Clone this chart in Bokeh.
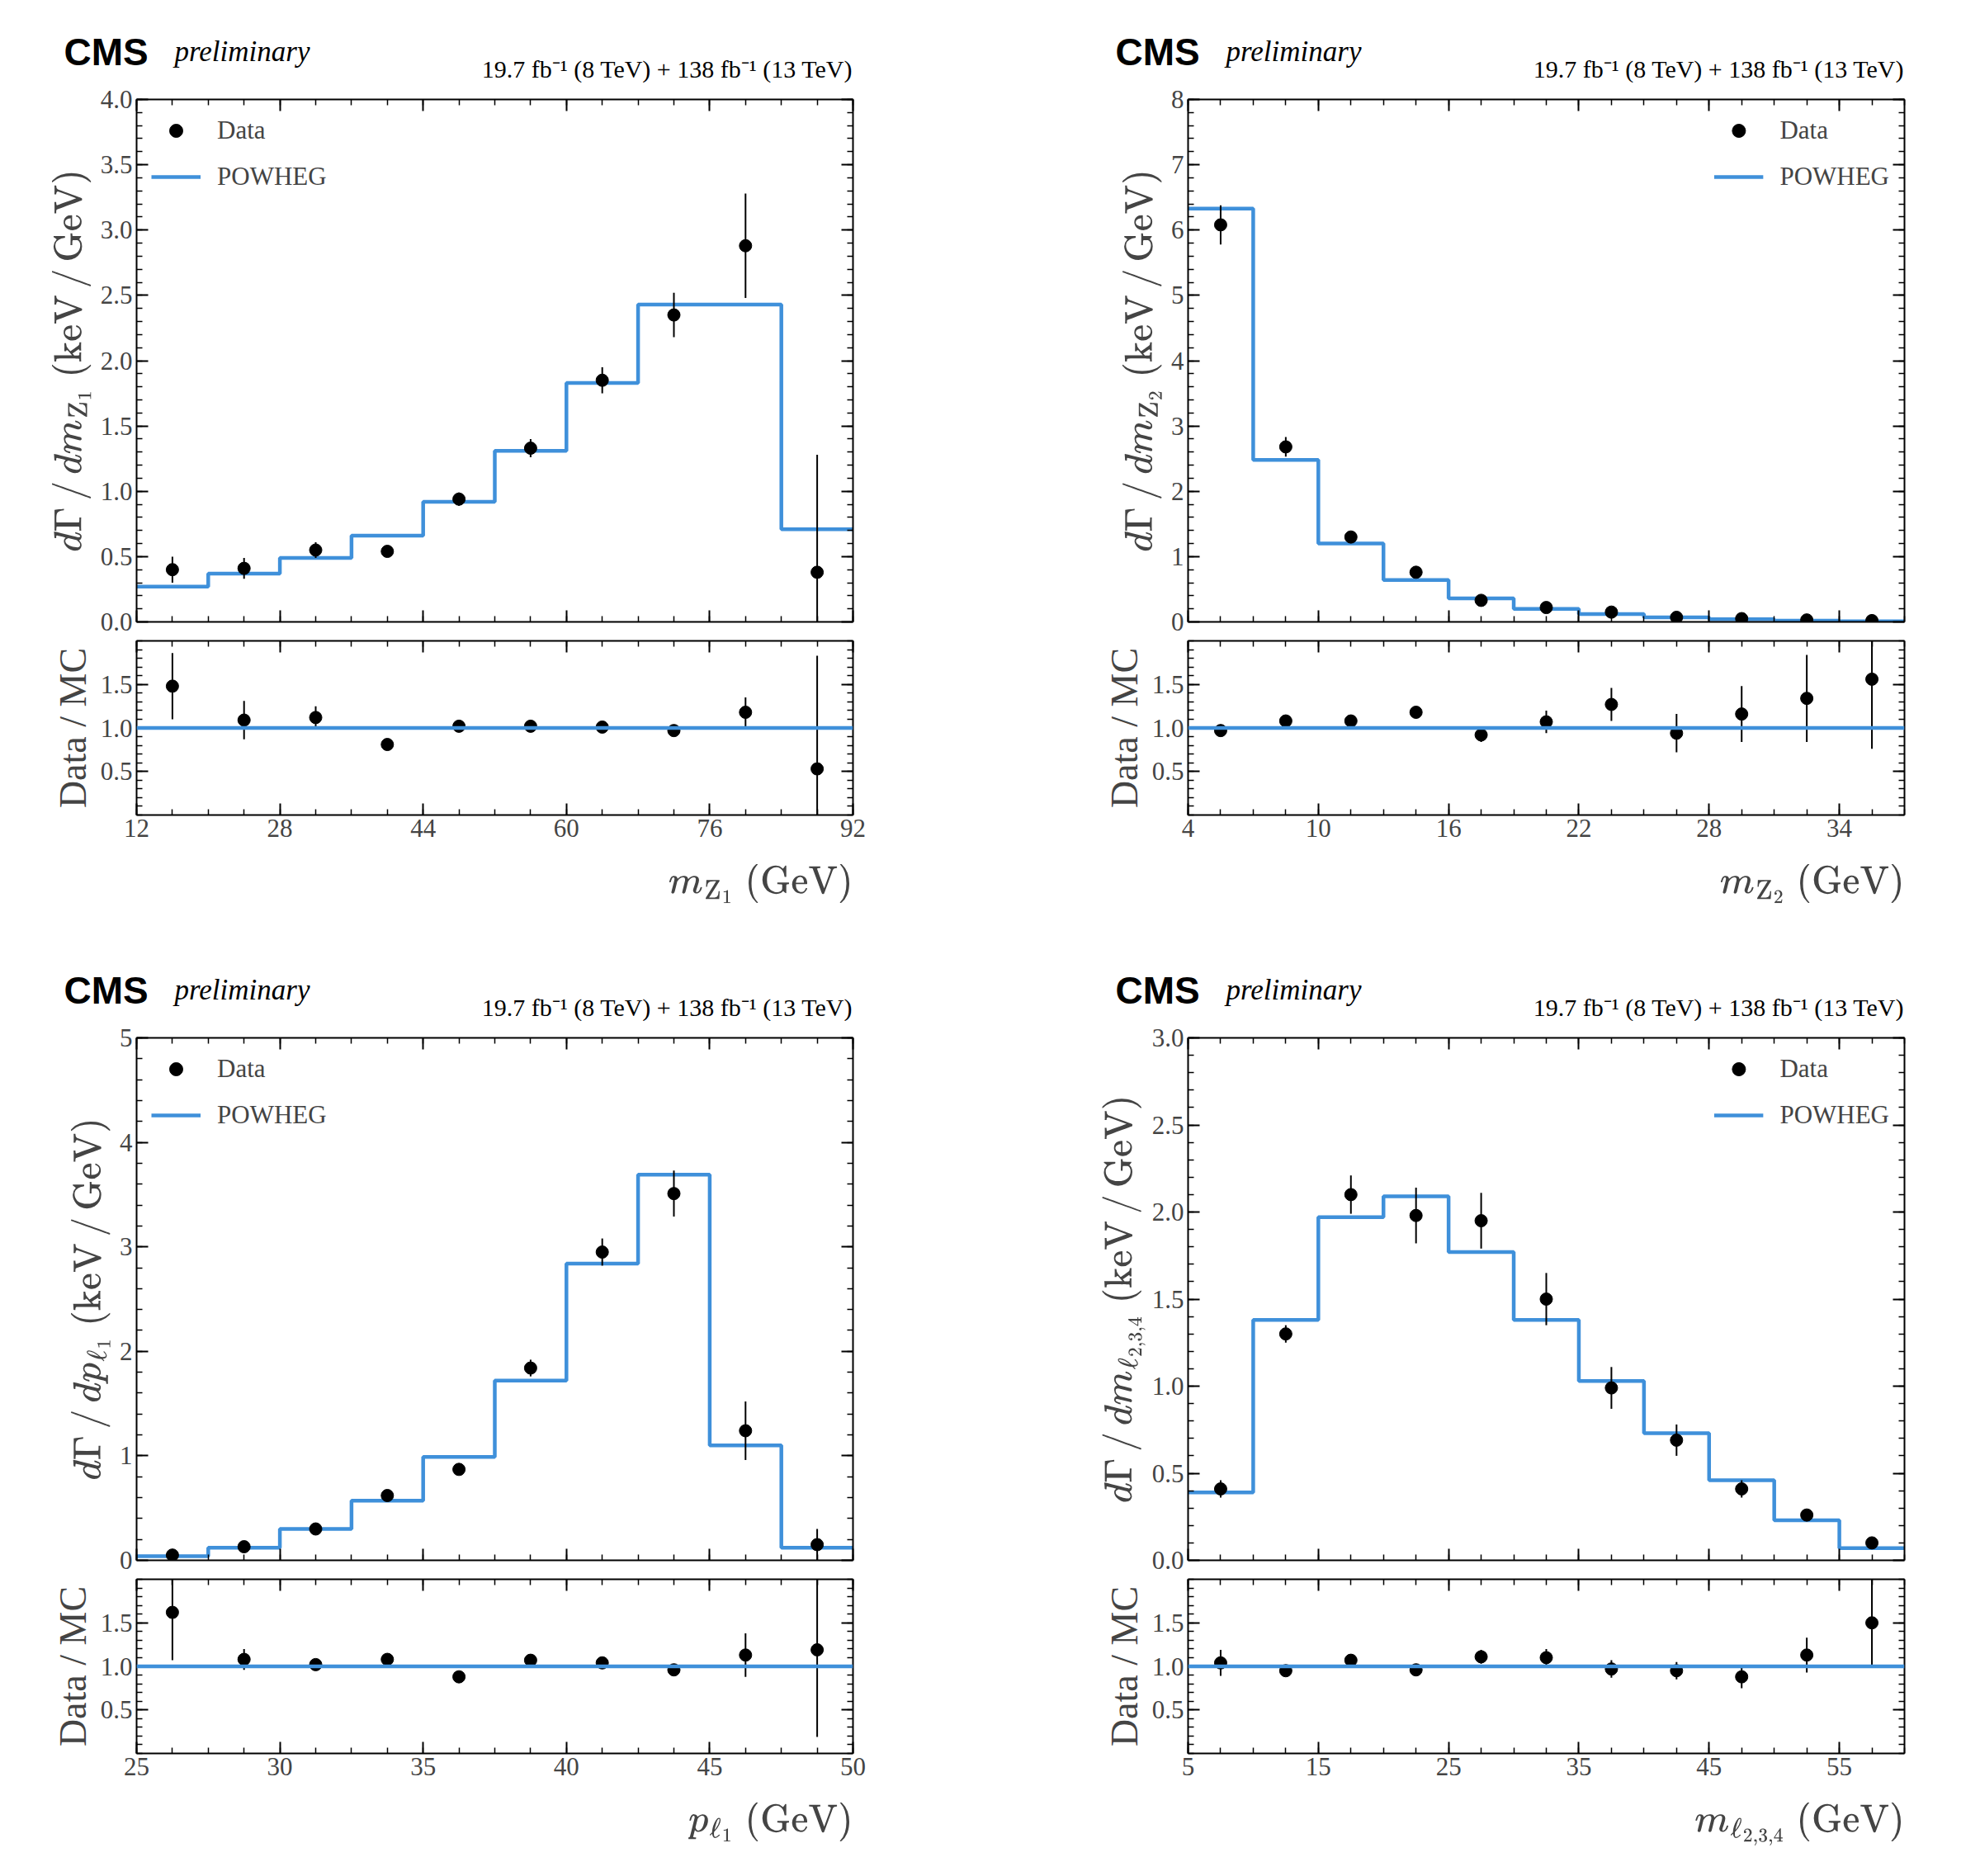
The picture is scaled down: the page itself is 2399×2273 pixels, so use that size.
import numpy as np
from bokeh.plotting import figure
from bokeh.layouts import column, row
from bokeh.models import (LinearAxis, Span, Legend, LegendItem, FixedTicker,
                          Range1d, CustomJSTickFormatter, NumeralTickFormatter)
from bokeh.core.properties import value
from bokeh.embed import file_html
from bokeh.resources import INLINE

# ---- data ----
edges1 = [12, 20, 28, 36, 44, 52, 60, 68, 76, 84, 92]
data1 = [0.40, 0.41, 0.55, 0.54, 0.94, 1.33, 1.85, 2.35, 2.88, 0.38]
derr1 = [0.10, 0.08, 0.06, 0.03, 0.05, 0.07, 0.10, 0.17, 0.40, 0.90]
mc1 = [0.27, 0.37, 0.49, 0.66, 0.92, 1.31, 1.83, 2.43, 2.43, 0.71]
ratio1 = [1.48, 1.09, 1.12, 0.81, 1.02, 1.02, 1.01, 0.97, 1.18, 0.53]
rerr1 = [0.38, 0.22, 0.13, 0.04, 0.04, 0.05, 0.05, 0.06, 0.17, 1.30]

edges2 = [4, 7, 10, 13, 16, 19, 22, 25, 28, 31, 34, 37]
data2 = [6.08, 2.68, 1.30, 0.76, 0.33, 0.22, 0.15, 0.07, 0.05, 0.03, 0.02]
derr2 = [0.30, 0.15, 0.07, 0.05, 0.03, 0.03, 0.03, 0.02, 0.02, 0.01, 0.01]
mc2 = [6.33, 2.48, 1.20, 0.64, 0.36, 0.20, 0.12, 0.07, 0.04, 0.02, 0.01]
ratio2 = [0.97, 1.08, 1.08, 1.18, 0.92, 1.07, 1.27, 0.94, 1.16, 1.34, 1.56]
rerr2 = [0.05, 0.05, 0.05, 0.07, 0.08, 0.13, 0.19, 0.22, 0.32, 0.50, 0.80]

edges3 = [25, 27.5, 30, 32.5, 35, 37.5, 40, 42.5, 45, 47.5, 50]
data3 = [0.05, 0.13, 0.30, 0.62, 0.87, 1.84, 2.95, 3.51, 1.24, 0.15]
derr3 = [0.02, 0.02, 0.03, 0.04, 0.05, 0.08, 0.13, 0.22, 0.28, 0.15]
mc3 = [0.04, 0.12, 0.30, 0.57, 0.99, 1.72, 2.84, 3.69, 1.10, 0.12]
ratio3 = [1.62, 1.08, 1.02, 1.08, 0.88, 1.07, 1.04, 0.96, 1.13, 1.19]
rerr3 = [0.55, 0.12, 0.05, 0.06, 0.05, 0.05, 0.04, 0.04, 0.25, 1.00]

edges4 = [5, 10, 15, 20, 25, 30, 35, 40, 45, 50, 55, 60]
data4 = [0.41, 1.30, 2.10, 1.98, 1.95, 1.50, 0.99, 0.69, 0.41, 0.26, 0.10]
derr4 = [0.05, 0.05, 0.11, 0.16, 0.16, 0.15, 0.12, 0.09, 0.05, 0.03, 0.02]
mc4 = [0.39, 1.38, 1.97, 2.09, 1.77, 1.38, 1.03, 0.73, 0.46, 0.23, 0.07]
ratio4 = [1.04, 0.95, 1.07, 0.96, 1.11, 1.10, 0.97, 0.95, 0.88, 1.13, 1.50]
rerr4 = [0.15, 0.04, 0.06, 0.06, 0.08, 0.10, 0.10, 0.10, 0.13, 0.20, 0.50]

SERIF = "Liberation Serif"
BLUE = "#3f90da"
FW, FH, RH, HH = 868, 633, 211, 100
BLANK = CustomJSTickFormatter(code="return ''")


def minor(ticks, n):
    step = (ticks[1] - ticks[0]) / n
    return list(np.arange(ticks[0] - ticks[1] + ticks[0], ticks[-1] + 2 * (ticks[1] - ticks[0]), step))


def tick_style(ax):
    ax.major_tick_in = 14
    ax.major_tick_out = 0
    ax.minor_tick_in = 7
    ax.minor_tick_out = 0
    ax.axis_line_width = 2
    ax.major_tick_line_width = 2
    ax.minor_tick_line_width = 1.5
    ax.major_label_text_font = SERIF
    ax.major_label_text_font_size = "31px"
    ax.axis_label_text_font = SERIF
    ax.axis_label_text_font_size = "46px"
    ax.axis_label_text_font_style = "normal"


def style_axes(p, xticks, yticks, show_x_labels, yfmt):
    bx, ly = p.below[0], p.left[0]
    xt = FixedTicker(ticks=xticks, minor_ticks=minor(xticks, 4))
    yt = FixedTicker(ticks=yticks, minor_ticks=minor(yticks, 5))
    top = LinearAxis(ticker=xt, formatter=BLANK)
    right = LinearAxis(ticker=yt, formatter=BLANK)
    p.add_layout(top, "above")
    p.add_layout(right, "right")
    for ax in (bx, ly, top, right):
        tick_style(ax)
    bx.ticker = xt
    ly.ticker = yt
    ly.formatter = NumeralTickFormatter(format=yfmt)
    if not show_x_labels:
        bx.formatter = BLANK
    p.grid.visible = False
    p.outline_line_color = None
    return bx, ly


def make_panel(edges, data, derr, mc, ratio, rerr, ymax, yticks, yfmt, xticks,
               ylab, xlab, legend_loc, left_border, right_border):
    edges = np.array(edges, dtype=float)
    centers = (edges[:-1] + edges[1:]) / 2
    data = np.array(data); derr = np.array(derr)
    ratio = np.array(ratio); rerr = np.array(rerr)
    xr = (edges[0], edges[-1])

    # header with CMS label and luminosity (pixel coordinates)
    W = FW + left_border
    h = figure(frame_width=W, frame_height=HH, x_range=Range1d(0, W), y_range=Range1d(0, HH),
               output_backend="svg", toolbar_location=None, min_border_left=0,
               min_border_right=right_border, min_border_top=0, min_border_bottom=0)
    h.axis.visible = False
    h.grid.visible = False
    h.outline_line_color = None
    h.text(x=[left_border - 88], y=[38], text=["CMS"], text_font=value("Liberation Sans"),
           text_font_style="bold", text_font_size="46px", text_baseline="alphabetic")
    h.text(x=[left_border + 46], y=[38], text=["preliminary"], text_font=value(SERIF),
           text_font_style="italic", text_font_size="35px", text_baseline="alphabetic")
    h.text(x=[W], y=[17], text=["19.7 fb⁻¹ (8 TeV) + 138 fb⁻¹ (13 TeV)"], text_font=value(SERIF),
           text_font_size="30px", text_align="right", text_baseline="alphabetic")

    p = figure(frame_width=FW, frame_height=FH, x_range=Range1d(*xr), y_range=Range1d(0, ymax),
               output_backend="svg", toolbar_location=None,
               min_border_left=left_border, min_border_right=right_border,
               min_border_top=20, min_border_bottom=22)
    st = p.step(x=list(edges), y=list(mc) + [mc[-1]], mode="after", line_color=BLUE, line_width=4.5)
    p.segment(x0=centers, y0=np.clip(data - derr, 0, None), x1=centers, y1=data + derr,
              line_color="black", line_width=2)
    sc = p.scatter(x=centers, y=data, size=15, color="black")
    _, ly = style_axes(p, xticks, yticks, False, yfmt)
    ly.axis_label = ylab
    leg = Legend(items=[LegendItem(label="Data", renderers=[sc]),
                        LegendItem(label="POWHEG", renderers=[st])],
                 location=legend_loc, border_line_color=None, background_fill_alpha=0,
                 label_text_font=SERIF, label_text_font_size="31px",
                 glyph_width=60, glyph_height=40, spacing=16, margin=18, label_standoff=20)
    p.add_layout(leg)

    r = figure(frame_width=FW, frame_height=RH, x_range=p.x_range, y_range=Range1d(0, 2),
               output_backend="svg", toolbar_location=None,
               min_border_left=left_border, min_border_right=right_border,
               min_border_top=1, min_border_bottom=150)
    r.add_layout(Span(location=1.0, dimension="width", line_color=BLUE, line_width=4.5))
    r.segment(x0=centers, y0=np.clip(ratio - rerr, 0, None), x1=centers, y1=np.clip(ratio + rerr, None, 2),
              line_color="black", line_width=2)
    r.scatter(x=centers, y=ratio, size=15, color="black")
    bx, ly2 = style_axes(r, xticks, [0.5, 1.0, 1.5], True, "0.0")
    ly2.axis_label = "Data / MC"
    bx.axis_label = "$$" + xlab + r"\phantom{" + xlab + "}$$"
    bx.axis_label_align = "end"
    bx.axis_label_standoff = 30
    return column(row(h), p, r, spacing=0)


LB, RB_L, RB_R = 165, 241, 60
p1 = make_panel(edges1, data1, derr1, mc1, ratio1, rerr1, 4.0,
                [0, 0.5, 1, 1.5, 2, 2.5, 3, 3.5, 4], "0.0", [12, 28, 44, 60, 76, 92],
                r"$$d\Gamma\,/\,dm_{\mathrm{Z}_1}\ \mathrm{(keV\,/\,GeV)}$$",
                r"m_{\mathrm{Z}_1}\ \mathrm{(GeV)}", "top_left", LB, RB_L)
p2 = make_panel(edges2, data2, derr2, mc2, ratio2, rerr2, 8.0,
                [0, 1, 2, 3, 4, 5, 6, 7, 8], "0", [4, 10, 16, 22, 28, 34],
                r"$$d\Gamma\,/\,dm_{\mathrm{Z}_2}\ \mathrm{(keV\,/\,GeV)}$$",
                r"m_{\mathrm{Z}_2}\ \mathrm{(GeV)}", "top_right", LB, RB_R)
p3 = make_panel(edges3, data3, derr3, mc3, ratio3, rerr3, 5.0,
                [0, 1, 2, 3, 4, 5], "0", [25, 30, 35, 40, 45, 50],
                r"$$d\Gamma\,/\,dp_{\ell_1}\ \mathrm{(keV\,/\,GeV)}$$",
                r"p_{\ell_1}\ \mathrm{(GeV)}", "top_left", LB, RB_L)
p4 = make_panel(edges4, data4, derr4, mc4, ratio4, rerr4, 3.0,
                [0, 0.5, 1, 1.5, 2, 2.5, 3], "0.0", [5, 15, 25, 35, 45, 55],
                r"$$d\Gamma\,/\,dm_{\ell_{2,3,4}}\ \mathrm{(keV\,/\,GeV)}$$",
                r"m_{\ell_{2,3,4}}\ \mathrm{(GeV)}", "top_right", LB, RB_R)

layout = column(row(p1, p2, spacing=0), row(p3, p4, spacing=0), spacing=0)
open("out.html", "w").write(file_html(layout, INLINE))
